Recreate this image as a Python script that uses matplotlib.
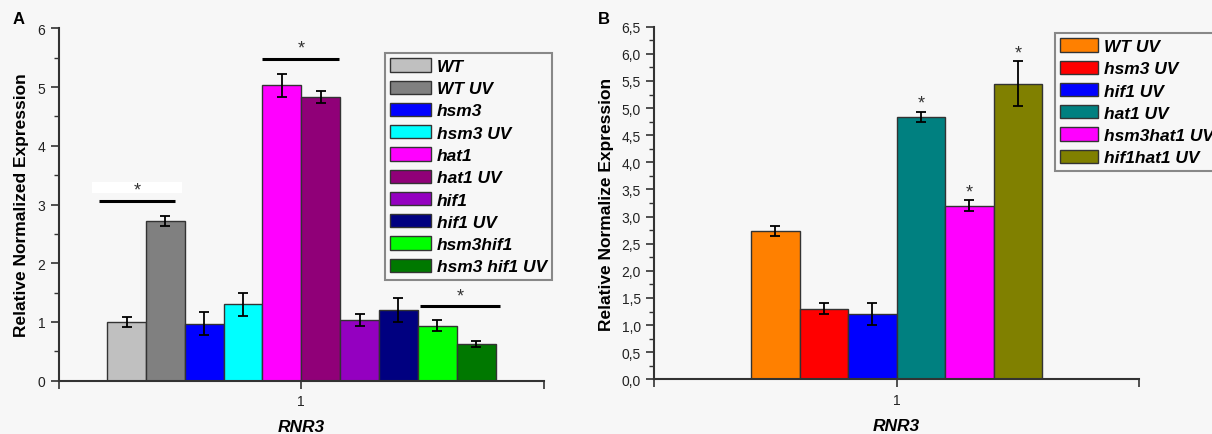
import matplotlib
matplotlib.use("Agg")
import matplotlib.pyplot as plt
from matplotlib.ticker import MultipleLocator, FuncFormatter

plt.rcParams['font.family'] = ['Liberation Sans', 'DejaVu Sans']

# ---- data panel A ----
labels_a = ['WT', 'WT UV', 'hsm3', 'hsm3 UV', 'hat1', 'hat1 UV', 'hif1', 'hif1 UV',
            'hsm3hif1', 'hsm3 hif1 UV']
values_a = [1.0, 2.72, 0.97, 1.30, 5.03, 4.83, 1.04, 1.20, 0.94, 0.62]
errors_a = [0.09, 0.09, 0.20, 0.20, 0.20, 0.10, 0.10, 0.20, 0.10, 0.05]
colors_a = ['#c0c0c0', '#808080', '#0000ff', '#00ffff', '#ff00ff', '#900078',
            '#9400c0', '#000080', '#00ff00', '#007800']

# ---- data panel B ----
labels_b = ['WT UV', 'hsm3 UV', 'hif1 UV', 'hat1 UV', 'hsm3hat1 UV', 'hif1hat1 UV']
values_b = [2.73, 1.30, 1.21, 4.84, 3.20, 5.45]
errors_b = [0.09, 0.10, 0.20, 0.095, 0.10, 0.41]
colors_b = ['#ff8000', '#ff0000', '#0000ff', '#008080', '#ff00ff', '#808000']
stars_b = [None, None, None, 5.1, 3.46, 6.02]

category = 'RNR3'
bg = '#f7f7f7'

fig = plt.figure(figsize=(12.12, 4.35), dpi=100, facecolor=bg)

def style_axis(ax, ymax, major, minor, fmt):
    ax.set_facecolor(bg)
    ax.set_xlim(0.5, 1.5)
    ax.set_ylim(0, ymax)
    for s in ['top', 'right']:
        ax.spines[s].set_visible(False)
    for s in ['left', 'bottom']:
        ax.spines[s].set_linewidth(1.5)
        ax.spines[s].set_color('#333333')
    ax.yaxis.set_major_locator(MultipleLocator(major))
    ax.yaxis.set_minor_locator(MultipleLocator(minor))
    ax.yaxis.set_major_formatter(FuncFormatter(fmt))
    ax.set_xticks([0.5, 1.0, 1.5])
    ax.set_xticklabels(['', '1', ''])
    ax.tick_params(axis='both', which='major', direction='out', length=6, width=1.2,
                   labelsize=10, colors='#333333', labelcolor='#222222')
    ax.tick_params(axis='y', which='minor', direction='out', length=3.5, width=1.0,
                   colors='#333333')
    ax.set_xlabel(category, fontsize=12.5, fontweight='bold', fontstyle='italic',
                  labelpad=8)

def bars(ax, vals, errs, cols, labs, width):
    n = len(vals)
    start = 1.0 - width * n / 2 + width / 2
    xs = [start + i * width for i in range(n)]
    for x, v, e, c, l in zip(xs, vals, errs, cols, labs):
        ax.bar(x, v, width=width, color=c, edgecolor='#333333', linewidth=1.0,
               label=l, zorder=2)
        ax.errorbar(x, v, yerr=e, color='black', capsize=3.5, elinewidth=1.3,
                    capthick=1.3, zorder=3)
    return xs

leg_kw = dict(loc='upper left', borderaxespad=0,
              prop={'size': 12.5, 'weight': 'bold', 'style': 'italic'},
              handleheight=0.8, handletextpad=0.35,
              labelspacing=0.38, borderpad=0.3, fancybox=False,
              edgecolor='#888888', facecolor=bg, framealpha=1)

# ---- Panel A ----
axA = fig.add_axes([0.0483, 0.1225, 0.4006, 0.810])
style_axis(axA, 6, 1, 0.5, lambda v, p: f'{v:.0f}')
xsA = bars(axA, values_a, errors_a, colors_a, labels_a, 0.08)
axA.set_ylabel('Relative Normalized Expression', fontsize=12.5, fontweight='bold',
               labelpad=6)

# significance markers
def sig(ax, x0, x1, y, ys, box=None):
    ax.plot([x0, x1], [y, y], color='black', lw=2.2, zorder=4, solid_capstyle='butt')
    if box is not None:
        ax.add_patch(plt.Rectangle((x0 - 0.015, box[0]), (x1 - x0) + 0.03,
                                   box[1] - box[0], facecolor='white',
                                   edgecolor='none', zorder=3))
    ax.text((x0 + x1) / 2, ys, '*', ha='center', va='center', fontsize=13,
            color='#333333', zorder=5)

sig(axA, xsA[0] - 0.04 - 0.016, xsA[1] + 0.02, 3.06, 3.24, box=(3.2, 3.38))
sig(axA, xsA[4] - 0.04, xsA[5] + 0.04 - 0.002, 5.48, 5.66)
sig(axA, xsA[8] - 0.04 + 0.004, xsA[9] + 0.04 + 0.01, 1.28, 1.44)

legA = axA.legend(bbox_to_anchor=(0.672, 0.93), handlelength=2.35, **leg_kw)
legA.get_frame().set_linewidth(1.5)

fig.text(0.010, 0.955, 'A', fontsize=12, fontweight='bold', ha='left', va='center')

# ---- Panel B ----
axB = fig.add_axes([0.5396, 0.1257, 0.4002, 0.8105])
style_axis(axB, 6.5, 0.5, 0.25, lambda v, p: f'{v:.1f}'.replace('.', ','))
xsB = bars(axB, values_b, errors_b, colors_b, labels_b, 0.1)
axB.set_ylabel('Relative Normalize Expression', fontsize=12.5, fontweight='bold',
               labelpad=5)
for x, s in zip(xsB, stars_b):
    if s is not None:
        axB.text(x, s, '*', ha='center', va='center', fontsize=13, color='#333333')

legB = axB.legend(bbox_to_anchor=(0.826, 0.982), handlelength=2.2, **leg_kw)
legB.get_frame().set_linewidth(1.5)

fig.text(0.493, 0.955, 'B', fontsize=12, fontweight='bold', ha='left', va='center')

fig.savefig('out.png', dpi=100, facecolor=bg)
